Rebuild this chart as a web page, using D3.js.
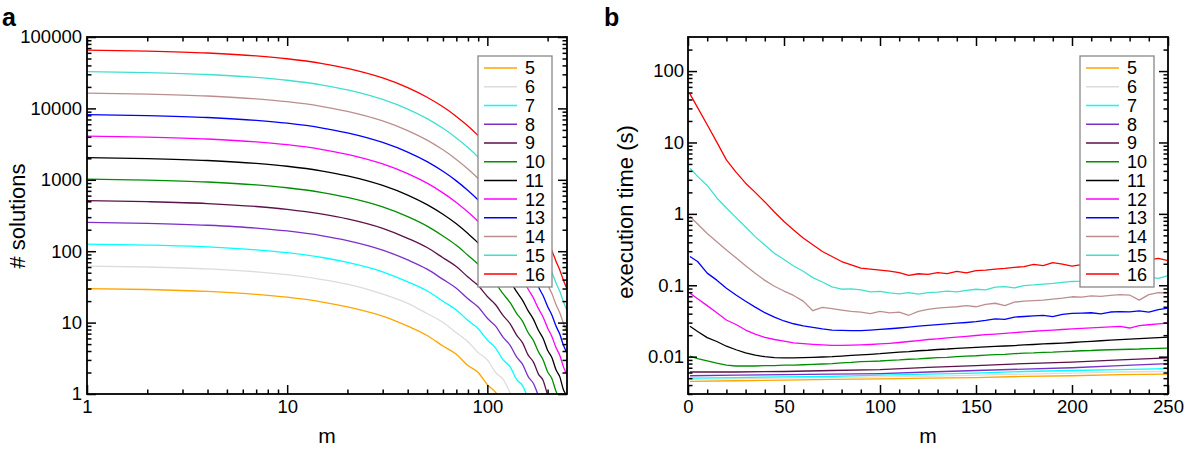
<!DOCTYPE html>
<html><head><meta charset="utf-8">
<script src="https://cdn.jsdelivr.net/npm/d3@7"></script>
<style>body{margin:0;background:#fff}svg{display:block}</style>
</head><body><svg id="c" width="1200" height="452"></svg>
<script>
// ---------- data ----------
const seriesNames = ["5","6","7","8","9","10","11","12","13","14","15","16"];
const colors = ["#FFA500","#DCDCDC","#00FFFF","#7B2FC8","#5C1248","#008F00","#000000","#FF00FF","#0000FF","#BC8F8F","#40E0D0","#FF0000"];

// panel a: number of solutions vs m (log-log)
const mA = [1,2,4,7,10,15,20,30,40,50,60,70,80,90,100,110,120,130,140,150,160,170,180,190,200,210,220,230,240,250];
const solA5  = [30,29.1,27.3,24.9,22.7,19.4,16.6,12.3,8.9,6.6,4.7,3.6,2.5,2.0,1.35,1.05,0.7];
const solA6  = [62,60.1,56.5,51.5,46.9,40.1,34.5,25.1,18.6,13.4,10.1,7.2,5.4,3.8,3.0,2.0,1.6,1.05,0.8];
const solA7  = [126,122,115,104.6,95.4,81.6,69.7,51.5,37.3,27.9,19.9,15.0,10.7,8.2,5.7,4.4,3.0,2.4,1.6,1.3,0.85];
const solA8  = [254,246,231,211,192,164.5,141,103.6,75.5,56,40.3,30.3,21.5,16.5,11.5,8.9,6.2,4.8,3.3,2.6,1.75,1.4,0.95,0.7];
const solA9  = [510,494,465,423,386,330,283,208.5,151.5,112.5,81,61,43.5,33,23.2,17.8,12.5,9.6,6.7,5.2,3.5,2.8,1.9,1.55,0.98,0.75];
const solA10 = [1022,991,931,848,774,662,566.5,416.5,304.5,224.5,163.5,121,87.6,65.5,47,35.4,25.2,19.0,13.5,10.4,7.2,5.6,3.9,3.0,2.05,1.65,1.1,0.85];
const solA11 = [2046,1984,1864,1698,1549,1326,1135.5,833.5,610.5,448.5,328.5,241.5,176.5,130.5,94.6,70.4,50.8,38.0,27.1,20.5,14.6,11.1,7.8,6.0,4.1,3.25,2.2,1.75,1.15,0.95];
const solA12 = [4094,3969,3730,3398,3099,2653,2272,1666,1221.5,897.5,656.5,482.5,353.5,260.5,189.5,140.5,101.5,75.6,54.6,40.8,29.3,22.0,15.7,11.9,8.4,6.4,4.5,3.5,2.4,1.85];
const solA13 = [8190,7940,7461,6798,6200,5307,4545,3333,2444,1794.5,1314,966,707,520,380,280,204,151,109,81.5,58.6,44.0,31.5,23.7,16.8,12.8,9.0,6.9,4.8,3.75];
const solA14 = [16382,15882,14924,13597,12401,10616,9092,6667,4889,3589,2629.5,1931,1414,1040,761,560,409,301,219,163,117,87.8,63.1,47.2,33.8,25.5,18.1,13.7,9.8,7.4];
const solA15 = [32766,31767,29850,27196,24804,21232,18185,13336,9779.5,7178,5260,3861.5,2829.5,2078.5,1522.5,1118,818,602,440,324,236,175,126,94.2,67.8,50.8,36.4,27.4,19.6,14.7];
const solA16 = [65534,63535,59701,54393,49609,42466,36371,26672,19562,14352,10525,7720,5662,4155,3046,2236,1636.5,1202.5,880,647,473,349,254,188,136,101.8,73.1,54.6,39.2,29.5];

// panel b: execution time vs m
const mB = [1,5,10,15,20,25,30,35,40,45,50,55,60,65,70,75,80,85,90,95,100,105,110,115,120,125,130,135,140,145,150,155,160,165,170,175,180,185,190,195,200,205,210,215,220,225,230,235,240,245,250];
const mBc = [1,25,50,75,100,125,150,175,200,225,250];
const timeB5  = [0.0045,0.0046,0.0047,0.0048,0.0049,0.0050,0.0051,0.0053,0.0054,0.0056,0.0057];
const timeB6  = [0.0048,0.0049,0.0050,0.0051,0.0052,0.0053,0.0055,0.0057,0.0059,0.0061,0.0062];
const timeB7  = [0.0050,0.0051,0.0052,0.0053,0.0055,0.0057,0.0059,0.0062,0.0064,0.0066,0.0068];
const timeB8  = [0.0054,0.0055,0.0056,0.0057,0.0058,0.0061,0.0064,0.0067,0.0070,0.0075,0.0080];
const timeB9  = [0.0061,0.0061,0.0062,0.0064,0.0066,0.0071,0.0075,0.0080,0.0084,0.0090,0.0096];
const timeB10 = [0.0102,0.0094,0.0087,0.0081,0.0076,0.0074,0.0074,0.0074,0.0075,0.0075,0.0076,0.0076,0.0077,0.0078,0.0079,0.0080,0.0082,0.0083,0.0085,0.0086,0.0087,0.0089,0.0090,0.0092,0.0093,0.0095,0.0097,0.0098,0.0100,0.0102,0.0103,0.0105,0.0107,0.0108,0.0110,0.0112,0.0113,0.0115,0.0116,0.0118,0.0119,0.0121,0.0122,0.0124,0.0125,0.0126,0.0127,0.0128,0.0130,0.0131,0.0132];
const timeB11 = [0.0266,0.0225,0.0185,0.0163,0.0140,0.0125,0.0113,0.0105,0.0100,0.0097,0.0096,0.0096,0.0097,0.0098,0.0099,0.0100,0.0102,0.0104,0.0106,0.0108,0.0110,0.0113,0.0116,0.0118,0.0121,0.0123,0.0126,0.0128,0.0131,0.0133,0.0135,0.0137,0.0139,0.0141,0.0143,0.0146,0.0148,0.0151,0.0153,0.0155,0.0158,0.0161,0.0164,0.0167,0.0170,0.0173,0.0176,0.0179,0.0182,0.0185,0.0188];
const timeB12 = [0.0776,0.0649,0.0519,0.0411,0.0326,0.0282,0.0236,0.0207,0.0186,0.0174,0.0165,0.0156,0.0152,0.0149,0.0146,0.0144,0.0144,0.0145,0.0146,0.0148,0.0151,0.0154,0.0158,0.0163,0.0168,0.0174,0.0178,0.0183,0.0188,0.0193,0.0198,0.0203,0.0207,0.0212,0.0217,0.0222,0.0227,0.0232,0.0236,0.0240,0.0245,0.0249,0.0253,0.0257,0.0261,0.0265,0.0252,0.0273,0.0280,0.0288,0.0296];
const timeB13 = [0.253,0.215,0.148,0.118,0.091,0.073,0.0597,0.0494,0.0413,0.0358,0.0316,0.0289,0.0270,0.0257,0.0245,0.0236,0.0233,0.0231,0.0232,0.0236,0.0241,0.0246,0.0252,0.0259,0.0268,0.0275,0.0281,0.0287,0.0294,0.0301,0.0310,0.0322,0.0338,0.0332,0.0358,0.0365,0.0372,0.0378,0.0364,0.0392,0.0405,0.0408,0.0412,0.0398,0.0422,0.0428,0.0425,0.0438,0.0420,0.0455,0.0480];
const timeB14 = [0.92,0.72,0.53,0.406,0.313,0.242,0.187,0.147,0.117,0.097,0.083,0.072,0.060,0.044,0.049,0.047,0.045,0.043,0.042,0.040,0.043,0.041,0.042,0.038,0.043,0.046,0.048,0.049,0.050,0.052,0.050,0.054,0.056,0.052,0.058,0.060,0.061,0.062,0.064,0.066,0.069,0.068,0.071,0.070,0.072,0.074,0.073,0.062,0.074,0.079,0.078];
const timeB15 = [4.36,3.35,2.5,1.67,1.21,0.885,0.653,0.48,0.366,0.28,0.23,0.186,0.157,0.128,0.111,0.095,0.088,0.089,0.086,0.081,0.082,0.078,0.076,0.079,0.075,0.079,0.080,0.083,0.081,0.085,0.088,0.086,0.094,0.096,0.092,0.099,0.101,0.104,0.106,0.110,0.113,0.114,0.117,0.118,0.120,0.121,0.124,0.127,0.130,0.125,0.137];
const timeB16 = [48,30.8,17.7,10.1,5.7,3.84,2.69,2.0,1.47,1.06,0.78,0.594,0.459,0.369,0.297,0.253,0.215,0.193,0.174,0.168,0.163,0.158,0.150,0.138,0.145,0.142,0.150,0.146,0.157,0.149,0.160,0.163,0.168,0.172,0.178,0.183,0.196,0.189,0.207,0.198,0.186,0.195,0.201,0.196,0.205,0.200,0.212,0.207,0.226,0.238,0.221];

// ticks
const xTicksA = [1,10,100], xTickLabelsA = ["1","10","100"];
const xMinorA = [2,3,4,5,6,7,8,9,20,30,40,50,60,70,80,90,200];
const yTicksA = [1,10,100,1000,10000,100000], yTickLabelsA = ["1","10","100","1000","10000","100000"];
const xTicksB = [0,50,100,150,200,250], xTickLabelsB = ["0","50","100","150","200","250"];
const xMinorB = [10,20,30,40,60,70,80,90,110,120,130,140,160,170,180,190,210,220,230,240];
const yTicksB = [0.01,0.1,1,10,100], yTickLabelsB = ["0.01","0.1","1","10","100"];

// ---------- drawing ----------
const FONT = "'Liberation Sans', Arial, Helvetica, sans-serif";
const svg = d3.select("#c");

function decadeMinors(lo, hi) {
  const out = [];
  for (let p = lo; p < hi; p++) for (let k = 2; k <= 9; k++) out.push(k * Math.pow(10, p));
  return out;
}

function drawPanel(o) {
  const x = o.x, y = o.y;
  const [x0, x1] = x.range();
  const [yb, yt] = y.range();
  const g = svg.append("g");
  g.append("clipPath").attr("id", o.clipId).append("rect")
    .attr("x", x0).attr("y", yt).attr("width", x1 - x0).attr("height", yb - yt);
  const lines = g.append("g").attr("clip-path", `url(#${o.clipId})`);
  const line = d3.line().x(d => x(d[0])).y(d => y(d[1])).curve(o.curve);
  o.series.forEach((vals, i) => {
    const ms = o.xs[i];
    const pts = vals.map((v, j) => [ms[j], v]);
    lines.append("path").attr("d", line(pts)).attr("fill", "none")
      .attr("stroke", colors[i]).attr("stroke-width", 1.3).attr("stroke-linejoin", "round");
  });

  const styleAxis = sel => {
    sel.select(".domain").remove();
    sel.attr("font-family", FONT).attr("font-size", 18.5);
    sel.selectAll("line").attr("stroke", "#000").attr("stroke-width", 1.5);
    sel.selectAll("text").attr("fill", "#000");
  };
  const none = () => "";
  // bottom
  g.append("g").attr("transform", `translate(0,${yb})`)
    .call(d3.axisBottom(x).tickValues(o.xMajor).tickSize(-9).tickPadding(6).tickFormat((d, i) => o.xLabels[i])).call(styleAxis);
  g.append("g").attr("transform", `translate(0,${yb})`)
    .call(d3.axisBottom(x).tickValues(o.xMinor).tickSize(-4.5).tickFormat(none)).call(styleAxis);
  // top
  g.append("g").attr("transform", `translate(0,${yt})`)
    .call(d3.axisTop(x).tickValues(o.xMajor).tickSize(-9).tickFormat(none)).call(styleAxis);
  g.append("g").attr("transform", `translate(0,${yt})`)
    .call(d3.axisTop(x).tickValues(o.xMinor).tickSize(-4.5).tickFormat(none)).call(styleAxis);
  // left
  g.append("g").attr("transform", `translate(${x0},0)`)
    .call(d3.axisLeft(y).tickValues(o.yMajor).tickSize(-9).tickPadding(o.yPad).tickFormat((d, i) => o.yLabels[i])).call(styleAxis);
  g.append("g").attr("transform", `translate(${x0},0)`)
    .call(d3.axisLeft(y).tickValues(o.yMinor).tickSize(-4.5).tickFormat(none)).call(styleAxis);
  // right
  g.append("g").attr("transform", `translate(${x1},0)`)
    .call(d3.axisRight(y).tickValues(o.yMajor).tickSize(-9).tickFormat(none)).call(styleAxis);
  g.append("g").attr("transform", `translate(${x1},0)`)
    .call(d3.axisRight(y).tickValues(o.yMinor).tickSize(-4.5).tickFormat(none)).call(styleAxis);

  // frame
  g.append("rect").attr("x", x0).attr("y", yt).attr("width", x1 - x0).attr("height", yb - yt)
    .attr("fill", "none").attr("stroke", "#000").attr("stroke-width", 1.8);

  // legend
  const lx = o.legendX, ly = 56;
  const lg = g.append("g");
  lg.append("rect").attr("x", lx).attr("y", ly).attr("width", 74).attr("height", 231)
    .attr("fill", "#fff").attr("stroke", "#888").attr("stroke-width", 1.3);
  seriesNames.forEach((nm, i) => {
    const yy = 68 + i * 18.73;
    lg.append("line").attr("x1", lx + 6).attr("x2", lx + 39).attr("y1", yy).attr("y2", yy)
      .attr("stroke", colors[i]).attr("stroke-width", 1.5);
    lg.append("text").attr("x", lx + 47).attr("y", yy).attr("dy", "0.36em")
      .attr("font-family", FONT).attr("font-size", 18).attr("fill", "#000").text(nm);
  });

  // axis titles
  g.append("text").attr("x", (x0 + x1) / 2).attr("y", 443).attr("text-anchor", "middle")
    .attr("font-family", FONT).attr("font-size", 21).text(o.xTitle);
  g.append("text").attr("transform", `translate(${o.yTitleX},${o.yTitleY}) rotate(-90)`).attr("text-anchor", "middle")
    .attr("font-family", FONT).attr("font-size", 22).text(o.yTitle);
  g.append("text").attr("x", o.tagX).attr("y", 26).attr("font-family", FONT)
    .attr("font-weight", "bold").attr("font-size", 25).text(o.tag);
}

drawPanel({
  x: d3.scaleLog().domain([1, 250]).range([87, 567]),
  y: d3.scaleLog().domain([1, 100000]).range([394, 37]),
  series: [solA5, solA6, solA7, solA8, solA9, solA10, solA11, solA12, solA13, solA14, solA15, solA16],
  xs: Array(12).fill(mA),
  curve: d3.curveMonotoneX,
  xMajor: xTicksA, xLabels: xTickLabelsA, xMinor: xMinorA,
  yMajor: yTicksA, yLabels: yTickLabelsA, yMinor: decadeMinors(0, 5),
  yPad: 5, legendX: 478, clipId: "clipA",
  xTitle: "m", yTitle: "# solutions", yTitleX: 25, yTitleY: 216, tag: "a", tagX: 2
});

drawPanel({
  x: d3.scaleLinear().domain([0, 250]).range([688, 1168]),
  y: d3.scaleLog().domain([0.003, 300]).range([394, 37]),
  series: [timeB5, timeB6, timeB7, timeB8, timeB9, timeB10, timeB11, timeB12, timeB13, timeB14, timeB15, timeB16],
  xs: [mBc, mBc, mBc, mBc, mBc, mB, mB, mB, mB, mB, mB, mB],
  curve: d3.curveLinear,
  xMajor: xTicksB, xLabels: xTickLabelsB, xMinor: xMinorB,
  yMajor: yTicksB, yLabels: yTickLabelsB,
  yMinor: [0.003,0.004,0.005,0.006,0.007,0.008,0.009].concat(decadeMinors(-2, 2)).concat([200]),
  yPad: 4, legendX: 1080, clipId: "clipB",
  xTitle: "m", yTitle: "execution time (s)", yTitleX: 633, yTitleY: 212, tag: "b", tagX: 604
});
</script>
</body></html>
